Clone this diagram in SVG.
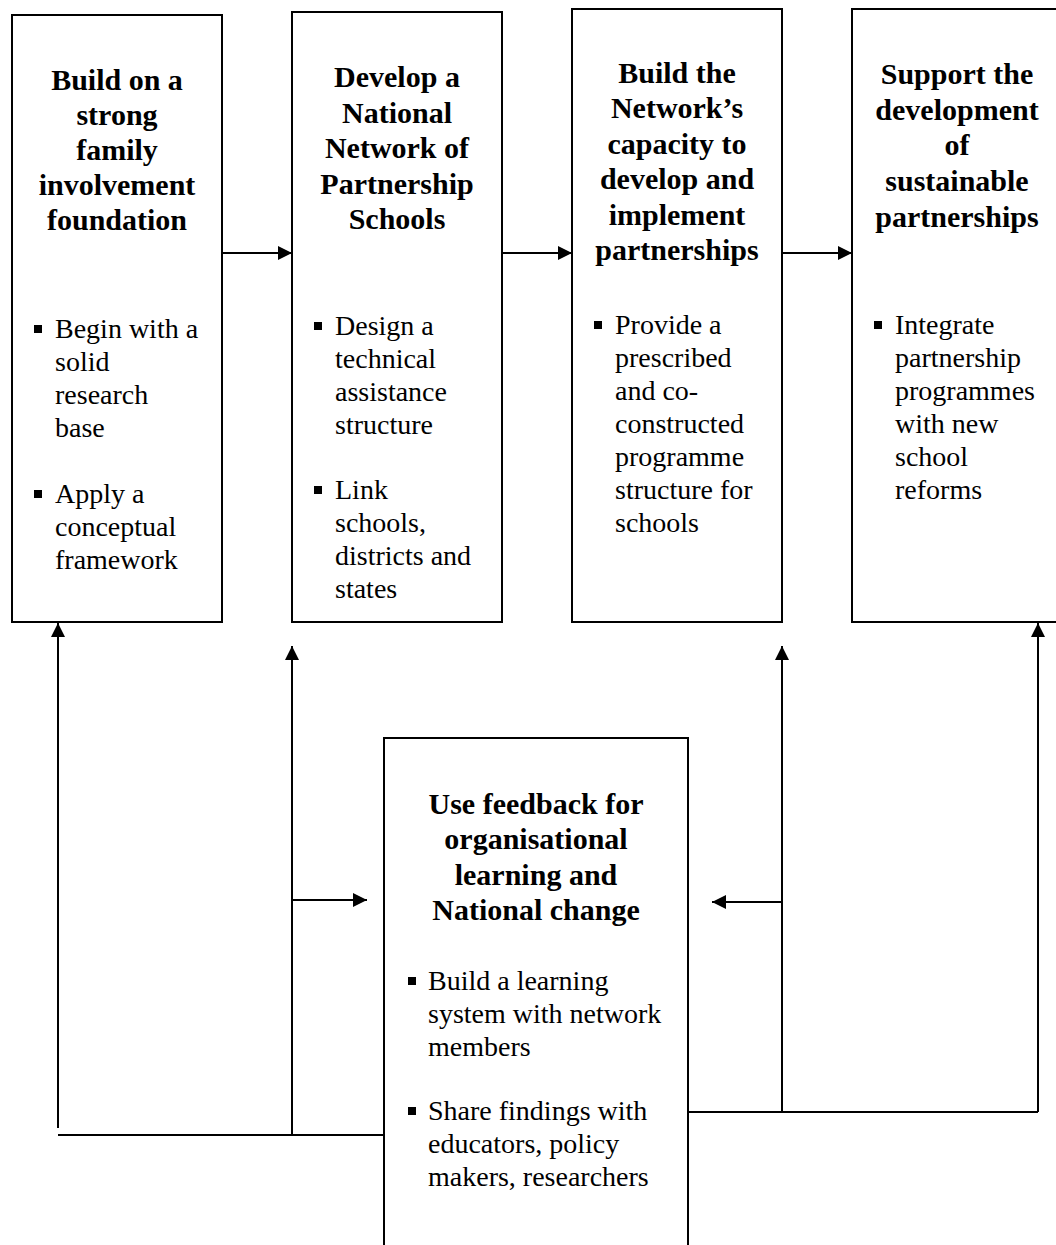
<svg xmlns="http://www.w3.org/2000/svg" width="1056" height="1245" viewBox="0 0 1056 1245">
<style>
.box{fill:#fff;stroke:#000;stroke-width:2}
.t{font-family:"Liberation Serif","Times New Roman",serif;font-weight:bold;font-size:30px;text-anchor:middle;fill:#000}
.b{font-family:"Liberation Serif","Times New Roman",serif;font-size:28px;fill:#000}
.ln{fill:none;stroke:#000;stroke-width:2}
</style>
<defs>
<marker id="ah" viewBox="0 0 14 14" refX="14" refY="7" markerWidth="14" markerHeight="14" markerUnits="userSpaceOnUse" orient="auto">
<path d="M0,0 L14,7 L0,14 Z" fill="#000"/>
</marker>
<rect id="sq" width="8" height="8" fill="#000"/>
</defs>
<rect width="1056" height="1245" fill="#fff"/>

<g id="node1">
<rect class="box" x="12" y="15" width="210" height="607"/>
<text class="t"><tspan x="117" y="90">Build on a</tspan><tspan x="117" y="125">strong</tspan><tspan x="117" y="160">family</tspan><tspan x="117" y="195">involvement</tspan><tspan x="117" y="230">foundation</tspan></text>
<use href="#sq" x="34" y="325"/>
<use href="#sq" x="34" y="490"/>
<text class="b"><tspan x="55" y="338">Begin with a</tspan><tspan x="55" y="371">solid</tspan><tspan x="55" y="404">research</tspan><tspan x="55" y="437">base</tspan><tspan x="55" y="503">Apply a</tspan><tspan x="55" y="536">conceptual</tspan><tspan x="55" y="569">framework</tspan></text>
</g>

<g id="node2">
<rect class="box" x="292" y="12" width="210" height="610"/>
<text class="t"><tspan x="397" y="87">Develop a</tspan><tspan x="397" y="123">National</tspan><tspan x="397" y="158">Network of</tspan><tspan x="397" y="194">Partnership</tspan><tspan x="397" y="229">Schools</tspan></text>
<use href="#sq" x="314" y="322"/>
<use href="#sq" x="314" y="486"/>
<text class="b"><tspan x="335" y="335">Design a</tspan><tspan x="335" y="368">technical</tspan><tspan x="335" y="401">assistance</tspan><tspan x="335" y="434">structure</tspan><tspan x="335" y="499">Link</tspan><tspan x="335" y="532">schools,</tspan><tspan x="335" y="565">districts and</tspan><tspan x="335" y="598">states</tspan></text>
</g>

<g id="node3">
<rect class="box" x="572" y="9" width="210" height="613"/>
<text class="t"><tspan x="677" y="83">Build the</tspan><tspan x="677" y="118">Network’s</tspan><tspan x="677" y="154">capacity to</tspan><tspan x="677" y="189">develop and</tspan><tspan x="677" y="225">implement</tspan><tspan x="677" y="260">partnerships</tspan></text>
<use href="#sq" x="594" y="321"/>
<text class="b"><tspan x="615" y="334">Provide a</tspan><tspan x="615" y="367">prescribed</tspan><tspan x="615" y="400">and co-</tspan><tspan x="615" y="433">constructed</tspan><tspan x="615" y="466">programme</tspan><tspan x="615" y="499">structure for</tspan><tspan x="615" y="532">schools</tspan></text>
</g>

<g id="node4">
<rect class="box" x="852" y="9" width="210" height="613"/>
<text class="t"><tspan x="957" y="84">Support the</tspan><tspan x="957" y="120">development</tspan><tspan x="957" y="155">of</tspan><tspan x="957" y="191">sustainable</tspan><tspan x="957" y="227">partnerships</tspan></text>
<use href="#sq" x="874" y="321"/>
<text class="b"><tspan x="895" y="334">Integrate</tspan><tspan x="895" y="367">partnership</tspan><tspan x="895" y="400">programmes</tspan><tspan x="895" y="433">with new</tspan><tspan x="895" y="466">school</tspan><tspan x="895" y="499">reforms</tspan></text>
</g>

<g id="node5">
<path class="box" d="M384,1250 L384,738 L688,738 L688,1250"/>
<text class="t"><tspan x="536" y="814">Use feedback for</tspan><tspan x="536" y="849">organisational</tspan><tspan x="536" y="885">learning and</tspan><tspan x="536" y="920">National change</tspan></text>
<use href="#sq" x="408" y="977"/>
<use href="#sq" x="408" y="1107"/>
<text class="b"><tspan x="428" y="990">Build a learning</tspan><tspan x="428" y="1023">system with network</tspan><tspan x="428" y="1056">members</tspan><tspan x="428" y="1120">Share findings with</tspan><tspan x="428" y="1153">educators, policy</tspan><tspan x="428" y="1186">makers, researchers</tspan></text>
</g>

<g id="connectors">
<line class="ln" x1="222" y1="253" x2="292" y2="253" marker-end="url(#ah)"/>
<line class="ln" x1="502" y1="253" x2="572" y2="253" marker-end="url(#ah)"/>
<line class="ln" x1="782" y1="253" x2="852" y2="253" marker-end="url(#ah)"/>
<line class="ln" x1="58" y1="1128" x2="58" y2="623" marker-end="url(#ah)"/>
<line class="ln" x1="58" y1="1135" x2="384" y2="1135"/>
<line class="ln" x1="292" y1="1135" x2="292" y2="646" marker-end="url(#ah)"/>
<line class="ln" x1="292" y1="900" x2="367" y2="900" marker-end="url(#ah)"/>
<line class="ln" x1="688" y1="1112" x2="1038" y2="1112"/>
<line class="ln" x1="782" y1="1112" x2="782" y2="646" marker-end="url(#ah)"/>
<line class="ln" x1="1038" y1="1112" x2="1038" y2="623" marker-end="url(#ah)"/>
<line class="ln" x1="782" y1="902" x2="712" y2="902" marker-end="url(#ah)"/>
</g>
</svg>
